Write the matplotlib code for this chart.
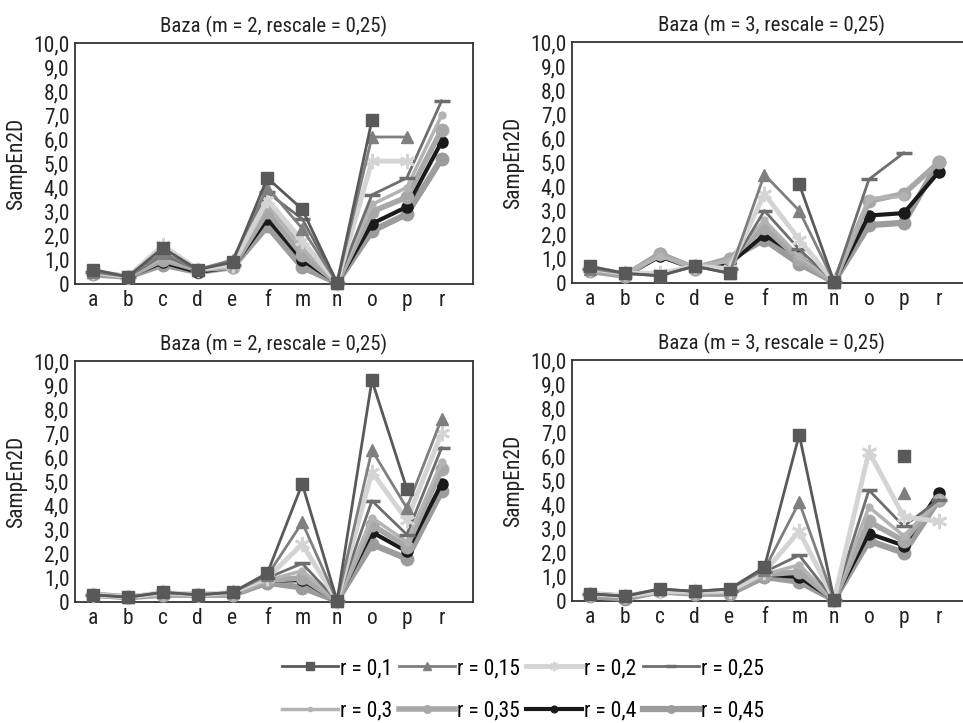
import numpy as np
import matplotlib.pyplot as plt
from matplotlib import font_manager

# pick a narrow sans if there is one
installed = {f.name for f in font_manager.fontManager.ttflist}
fam = 'DejaVu Sans'
for cand in ['Roboto Condensed', 'Liberation Sans Narrow', 'Roboto']:
    if cand in installed:
        fam = cand
        break
plt.rcParams['font.family'] = [fam, 'DejaVu Sans']

nan = np.nan
cats = ['a', 'b', 'c', 'd', 'e', 'f', 'm', 'n', 'o', 'p', 'r']
r_labels = ['r = 0,1', 'r = 0,15', 'r = 0,2', 'r = 0,25',
            'r = 0,3', 'r = 0,35', 'r = 0,4', 'r = 0,45']
ytick_vals = [0, 1, 2, 3, 4, 5, 6, 7, 8, 9, 10]
ytick_labels = ['0', '1,0', '2,0', '3,0', '4,0', '5,0', '6,0', '7,0', '8,0', '9,0', '10,0']
titles = ['Baza (m = 2, rescale = 0,25)', 'Baza (m = 3, rescale = 0,25)',
          'Baza (m = 2, rescale = 0,25)', 'Baza (m = 3, rescale = 0,25)']

# top left (m = 2)
tl = [
    [0.6, 0.3, 1.5, 0.6, 0.9, 4.4, 3.1, 0.05, 6.8, nan, nan],
    [0.5, 0.3, 1.3, 0.6, 1.0, 4.0, 2.3, 0.05, 6.1, 6.1, nan],
    [0.5, 0.3, 1.6, 0.6, 0.8, 3.5, 1.8, 0.05, 5.1, 5.1, nan],
    [0.5, 0.3, 1.2, 0.6, 0.8, 3.8, 2.7, 0.05, 3.7, 4.4, 7.6],
    [0.5, 0.3, 1.1, 0.6, 0.8, 3.3, 1.5, 0.05, 3.3, 4.0, 7.0],
    [0.5, 0.3, 1.0, 0.6, 0.7, 3.0, 1.2, 0.05, 3.0, 3.6, 6.4],
    [0.5, 0.3, 0.9, 0.5, 0.7, 2.7, 1.0, 0.05, 2.5, 3.2, 5.9],
    [0.4, 0.3, 0.8, 0.5, 0.7, 2.4, 0.7, 0.05, 2.2, 2.9, 5.2],
]
# top right (m = 3)
tr = [
    [0.7, 0.4, 0.3, 0.7, 0.4, nan, 4.1, 0.05, nan, nan, nan],
    [0.6, 0.4, 0.3, 0.7, 0.4, 4.5, 3.0, 0.05, nan, nan, nan],
    [0.6, 0.4, 0.4, 0.7, 0.6, 3.7, 1.8, 0.05, nan, nan, nan],
    [0.6, 0.4, 0.4, 0.7, 0.6, 3.0, 1.4, 0.05, 4.3, 5.4, nan],
    [0.6, 0.4, 1.1, 0.7, 0.9, 2.6, 1.1, 0.05, 3.5, 3.6, nan],
    [0.6, 0.3, 1.2, 0.6, 1.0, 2.3, 1.0, 0.05, 3.4, 3.7, 5.0],
    [0.6, 0.3, 1.1, 0.6, 0.8, 2.0, 1.1, 0.05, 2.8, 2.9, 4.6],
    [0.5, 0.3, 1.2, 0.6, 1.0, 1.8, 0.8, 0.05, 2.4, 2.5, 5.0],
]
# bottom left (m = 2)
bl = [
    [0.3, 0.2, 0.4, 0.3, 0.4, 1.2, 4.9, 0.05, 9.2, 4.7, nan],
    [0.3, 0.2, 0.4, 0.3, 0.4, 1.1, 3.3, 0.05, 6.3, 3.9, 7.6],
    [0.3, 0.2, 0.4, 0.3, 0.4, 1.0, 2.4, 0.05, 5.4, 3.4, 7.0],
    [0.3, 0.2, 0.4, 0.3, 0.4, 1.0, 1.6, 0.05, 4.2, 2.8, 6.4],
    [0.3, 0.2, 0.3, 0.3, 0.4, 0.9, 1.3, 0.05, 3.5, 2.5, 5.8],
    [0.3, 0.2, 0.3, 0.3, 0.3, 0.9, 1.0, 0.05, 3.2, 2.3, 5.5],
    [0.3, 0.2, 0.3, 0.3, 0.3, 0.9, 0.9, 0.05, 2.9, 2.1, 4.9],
    [0.3, 0.2, 0.3, 0.3, 0.3, 0.8, 0.6, 0.05, 2.4, 1.8, 4.6],
]
# bottom right (m = 3)
br = [
    [0.3, 0.2, 0.5, 0.4, 0.5, 1.4, 6.9, 0.05, nan, 6.0, nan],
    [0.3, 0.2, 0.5, 0.4, 0.5, 1.3, 4.1, 0.05, nan, 4.5, nan],
    [0.3, 0.2, 0.4, 0.4, 0.4, 1.2, 2.9, 0.05, 6.2, 3.5, 3.3],
    [0.3, 0.2, 0.4, 0.4, 0.4, 1.2, 1.9, 0.05, 4.6, 3.1, 4.2],
    [0.3, 0.2, 0.4, 0.3, 0.4, 1.1, 1.5, 0.05, 3.9, 2.7, 4.2],
    [0.3, 0.2, 0.4, 0.3, 0.4, 1.1, 1.2, 0.05, 3.3, 2.5, 4.2],
    [0.3, 0.2, 0.4, 0.3, 0.4, 1.1, 1.0, 0.05, 2.8, 2.3, 4.5],
    [0.2, 0.1, 0.4, 0.3, 0.3, 1.0, 0.8, 0.05, 2.5, 2.0, 4.2],
]

styles = [
    dict(color='#595959', lw=2, marker='s', ms=9),
    dict(color='#7f7f7f', lw=2, marker='^', ms=9),
    dict(color='#d4d4d4', lw=3.5, marker=(6, 2, 0), ms=11, mew=2),
    dict(color='#6e6e6e', lw=2, marker='_', ms=11, mew=2.5),
    dict(color='#b3b3b3', lw=2.5, marker='o', ms=5),
    dict(color='#a8a8a8', lw=4, marker='o', ms=9),
    dict(color='#1a1a1a', lw=3, marker='o', ms=8),
    dict(color='#9c9c9c', lw=4.5, marker='o', ms=9),
]

fig = plt.figure(figsize=(9.63, 7.23), dpi=100)
W = 398 / 963
H = 241 / 723
positions = [
    [75 / 963, 1 - 284 / 723, W, H],
    [572 / 963, 1 - 283 / 723, W, H],
    [75 / 963, 1 - 602 / 723, W, H],
    [572 / 963, 1 - 601 / 723, W, H],
]

x = np.arange(len(cats))
handles = []
for k, (pos, data) in enumerate(zip(positions, [tl, tr, bl, br])):
    ax = fig.add_axes(pos)
    hs = []
    for i in reversed(range(len(data))):
        h, = ax.plot(x, data[i], label=r_labels[i], clip_on=False,
                     zorder=10 - i, **styles[i])
        hs.append(h)
    if k == 0:
        handles = hs[::-1]
    ax.set_xlim(-0.52, 10.9)
    ax.set_ylim(0, 10)
    ax.set_xticks(x)
    ax.set_xticklabels(cats)
    ax.set_yticks(ytick_vals)
    ax.set_yticklabels(ytick_labels)
    ax.tick_params(length=0, labelsize=15.5, colors='#222222', pad=4)
    ax.tick_params(axis='x', pad=4)
    for s in ax.spines.values():
        s.set_color('#333333')
        s.set_linewidth(1.3)
    ax.set_ylabel('SampEn2D', fontsize=15.5, color='#222222', labelpad=4)
    ax.set_title(titles[k], fontsize=15, color='#222222', pad=8)

order = [0, 4, 1, 5, 2, 6, 3, 7]
fig.legend([handles[i] for i in order], [r_labels[i] for i in order],
           loc='center', bbox_to_anchor=(0.543, 0.046), ncol=4, frameon=False,
           fontsize=15.5, handlelength=2.6, handletextpad=0.1,
           columnspacing=0.3, labelspacing=1.0, numpoints=1, markerscale=0.6)

fig.savefig('out.png', dpi=100)
